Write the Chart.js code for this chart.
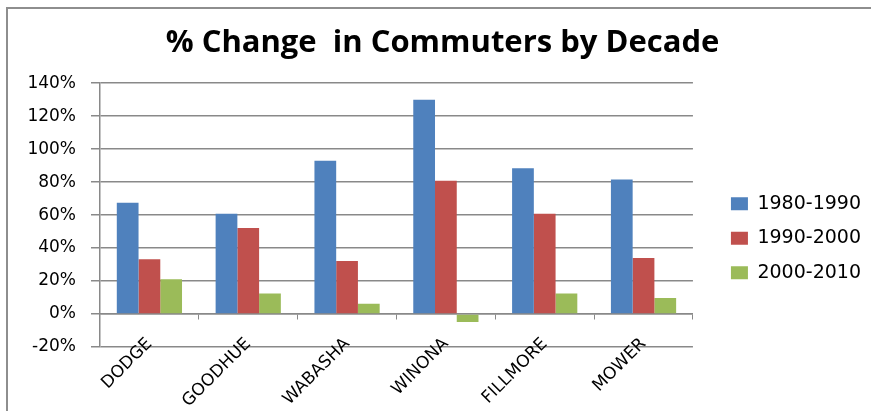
<!DOCTYPE html>
<html lang="en">
<head>
    <meta charset="UTF-8">
    <title>% Change in Commuters by Decade</title>
    <script src="https://cdn.jsdelivr.net/npm/chart.js"></script>
    <style>
        body { margin: 0; background: #fff; }
        .frame {
            position: absolute;
            left: 6px; top: 7px;
            width: 900px; height: 420px;
            border-left: 2px solid #8e8e8e;
            border-top: 2px solid #8e8e8e;
        }
        .wrap { position: absolute; left: 0; top: 0; width: 871px; height: 411px; }
    </style>
</head>
<body>
    <div class="frame"></div>
    <div class="wrap">
        <canvas id="commuteChart" width="871" height="411"></canvas>
    </div>

    <script>
        // counties along the x axis
        const counties = ['DODGE', 'GOODHUE', 'WABASHA', 'WINONA', 'FILLMORE', 'MOWER'];
        // % change per decade
        const change1980s = [67.5, 60.8, 92.9, 129.9, 88.4, 81.6];
        const change1990s = [33.2, 52.2, 32.2, 80.8, 60.8, 34.0];
        const change2000s = [21.1, 12.5, 6.2, -4.8, 12.5, 9.7];
        const decadeLabels = ['1980-1990', '1990-2000', '2000-2010'];
        const yTicks = [-20, 0, 20, 40, 60, 80, 100, 120, 140];

        const gridGray = '#898989';
        const ctx = document.getElementById('commuteChart').getContext('2d');

        const commuteChart = new Chart(ctx, {
            type: 'bar',
            data: {
                labels: counties,
                datasets: [
                    { label: decadeLabels[0], data: change1980s, backgroundColor: '#4F81BD' },
                    { label: decadeLabels[1], data: change1990s, backgroundColor: '#C0504D' },
                    { label: decadeLabels[2], data: change2000s, backgroundColor: '#9BBB59' }
                ]
            },
            options: {
                responsive: false,
                animation: false,
                categoryPercentage: 0.66,
                barPercentage: 1.0,
                layout: {
                    padding: { left: 14, right: 0, top: 0, bottom: 64 }
                },
                scales: {
                    x: {
                        position: { y: 0 },
                        grid: {
                            display: true,
                            drawOnChartArea: false,
                            drawTicks: true,
                            tickLength: 5,
                            offset: true,
                            color: gridGray
                        },
                        border: { display: true, color: gridGray, width: 1.5 },
                        ticks: {
                            minRotation: 45,
                            maxRotation: 45,
                            padding: 15,
                            color: '#000',
                            font: { family: 'DejaVu Sans', size: 17 }
                        }
                    },
                    y: {
                        min: yTicks[0],
                        max: yTicks[yTicks.length - 1],
                        afterBuildTicks: function(scale) {
                            scale.ticks = yTicks.map(v => ({ value: v }));
                        },
                        afterFit: function(scale) {
                            scale.width = 86;
                        },
                        grid: {
                            color: gridGray,
                            lineWidth: 1.5,
                            tickLength: 9
                        },
                        border: { display: true, color: gridGray, width: 1.5 },
                        ticks: {
                            padding: 15,
                            color: '#000',
                            font: { family: 'DejaVu Sans', size: 17 },
                            callback: function(value) {
                                return value + '%';
                            }
                        }
                    },
                    gap: {
                        type: 'linear',
                        position: 'right',
                        grid: { display: false },
                        border: { display: false },
                        ticks: { display: false },
                        afterFit: function(scale) {
                            scale.width = 22.5;
                        }
                    }
                },
                plugins: {
                    title: {
                        display: true,
                        text: '% Change  in Commuters by Decade',
                        color: '#000',
                        font: { family: 'Open Sans', size: 31, weight: 'bold' },
                        padding: { top: 25, bottom: 21 }
                    },
                    legend: {
                        position: 'right',
                        fullSize: false,
                        maxWidth: 220,
                        title: {
                            display: true,
                            text: ' ',
                            font: { size: 12 },
                            padding: { top: 0, bottom: 32 }
                        },
                        labels: {
                            boxWidth: 17,
                            boxHeight: 13,
                            padding: 15.5,
                            color: '#000',
                            font: { family: 'DejaVu Sans', size: 19 }
                        }
                    },
                    tooltip: { enabled: false }
                }
            }
        });
    </script>
</body>
</html>
